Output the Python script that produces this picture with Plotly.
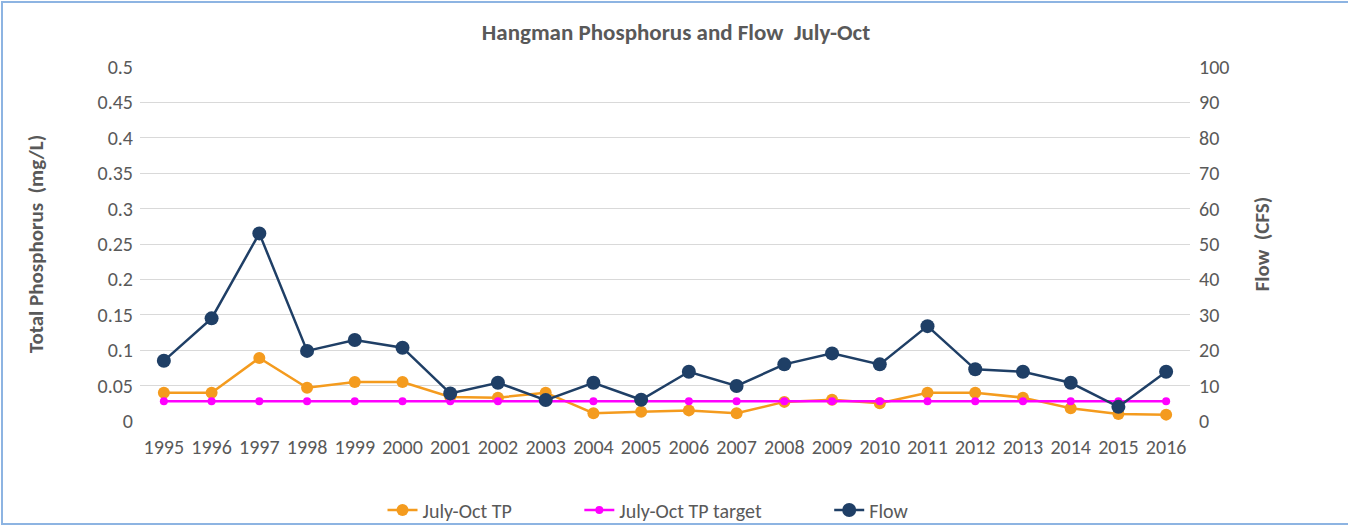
import plotly.graph_objects as go

years = [str(y) for y in range(1995, 2017)]
tp = [0.040, 0.040, 0.089, 0.047, 0.055, 0.055, 0.034, 0.033, 0.040, 0.011, 0.013,
      0.015, 0.011, 0.027, 0.030, 0.025, 0.040, 0.040, 0.033, 0.018, 0.010, 0.009]
tp_target = [0.028] * 22
flow = [17.0, 29.0, 53.0, 19.8, 22.9, 20.7, 7.8, 10.8, 5.9, 10.8, 6.0,
        13.9, 9.9, 16.0, 19.1, 16.0, 26.8, 14.6, 13.9, 10.8, 4.0, 13.9]

tp_ticks = [0, 0.05, 0.1, 0.15, 0.2, 0.25, 0.3, 0.35, 0.4, 0.45, 0.5]
tp_ticktext = ["0", "0.05", "0.1", "0.15", "0.2", "0.25", "0.3", "0.35", "0.4", "0.45", "0.5"]
flow_ticks = [0, 10, 20, 30, 40, 50, 60, 70, 80, 90, 100]

FONT = "Calibri, Carlito, Lato, 'Open Sans', sans-serif"
GRAY = "#595959"
ORANGE = "#F49B1E"
MAGENTA = "#FF00FF"
NAVY = "#1F3F66"
PAD = "\u2003\u2003\u00a0\u00a0\u00a0\u00a0\u00a0"  # trailing spacing between legend entries

fig = go.Figure()
fig.add_trace(go.Scatter(x=years, y=tp, name="July-Oct TP" + PAD, mode="lines+markers",
                         line=dict(color=ORANGE, width=2.5),
                         marker=dict(color=ORANGE, size=12), yaxis="y"))
fig.add_trace(go.Scatter(x=years, y=tp_target, name="July-Oct TP target" + PAD, mode="lines+markers",
                         line=dict(color=MAGENTA, width=2.5),
                         marker=dict(color=MAGENTA, size=8), yaxis="y"))
fig.add_trace(go.Scatter(x=years, y=flow, name="Flow", mode="lines+markers",
                         line=dict(color=NAVY, width=2.5),
                         marker=dict(color=NAVY, size=14), yaxis="y2"))

W, H = 1348, 527
ml, mr, mt, mb = 140, 158, 67, 106
pw, ph = W - ml - mr, H - mt - mb

def px(x):
    return (x - ml) / pw

def py(y):
    return (H - mb - y) / ph

fig.update_layout(
    width=W, height=H,
    margin=dict(l=ml, r=mr, t=mt, b=mb, autoexpand=False),
    paper_bgcolor="white", plot_bgcolor="white",
    font=dict(family=FONT, color=GRAY, size=20),
    title=dict(text="<b>Hangman Phosphorus and Flow  July-Oct</b>",
               x=px(676), xanchor="center", xref="paper",
               y=1 - 32 / H, yanchor="middle",
               font=dict(family=FONT, size=23, color=GRAY)),
    xaxis=dict(type="category", range=[-0.5, 21.5], showgrid=False, showline=False, ticks="",
               tickfont=dict(size=20, color=GRAY), ticklabelstandoff=12),
    yaxis=dict(range=[0, 0.5], tickvals=tp_ticks, ticktext=tp_ticktext,
               showgrid=True, gridcolor="#D9D9D9", gridwidth=1, zeroline=False,
               tickfont=dict(size=20, color=GRAY), ticklabelstandoff=6,
               title=dict(text="<b>Total Phosphorus  (mg/L)</b>", standoff=48,
                          font=dict(size=21, color=GRAY))),
    yaxis2=dict(range=[0, 100], tickvals=flow_ticks, overlaying="y", side="right",
                showgrid=False, zeroline=False,
                tickfont=dict(size=20, color=GRAY), ticklabelstandoff=8,
                title=dict(text="<b>Flow  (CFS)</b>", standoff=25,
                           font=dict(size=21, color=GRAY))),
    legend=dict(orientation="h", x=px(648), xanchor="center", y=py(510), yanchor="middle",
                font=dict(size=20, color=GRAY), bgcolor="rgba(0,0,0,0)"),
    showlegend=True,
    shapes=[dict(type="rect", xref="paper", yref="paper",
                 x0=px(2), x1=px(1352), y0=py(524), y1=py(2),
                 line=dict(color="#8DB4E2", width=2), fillcolor="rgba(0,0,0,0)", layer="below")],
)

fig.write_html("out.html", config={"displayModeBar": False},
               post_script="document.body.style.margin='0px';document.body.style.overflow='hidden';")
